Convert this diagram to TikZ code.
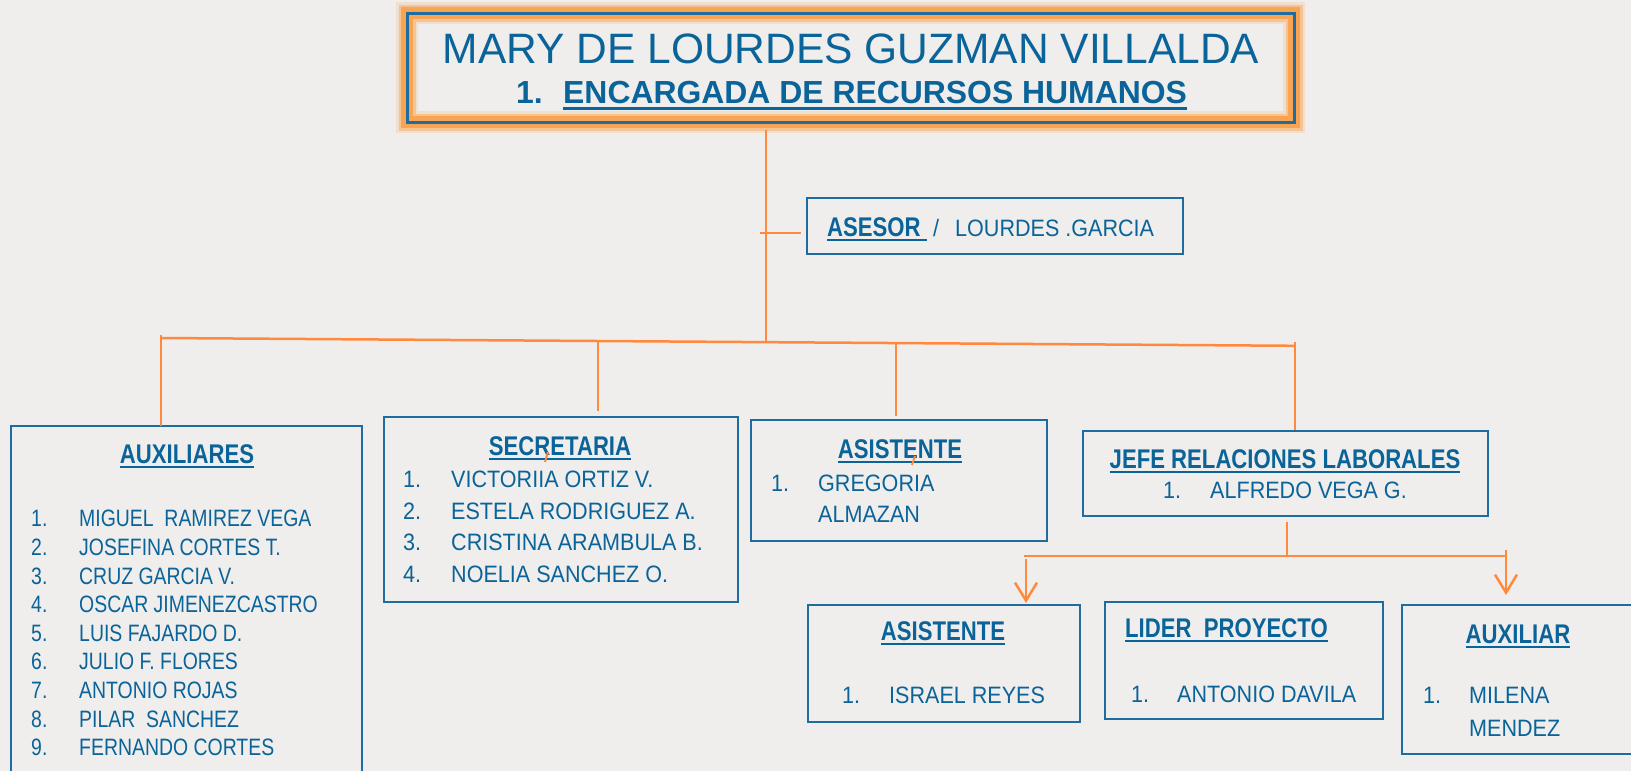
\documentclass[tikz,border=0pt]{standalone}
\usepackage{fontspec}
\setmainfont{Liberation Sans}
\newfontfamily\fbody{Liberation Sans}[FakeStretch=0.91]
\newfontfamily\fnar{Liberation Sans}[FakeStretch=0.82]
\newfontfamily\fhd{Liberation Sans}[FakeStretch=0.82]
\usetikzlibrary{arrows.meta}
\definecolor{bg}{HTML}{EFEEEC}
\definecolor{tblue}{HTML}{0A6399}
\definecolor{bblue}{HTML}{1F6CA0}
\definecolor{org}{HTML}{FF8A3D}
\definecolor{glow}{HTML}{F9A452}
\newcommand\myul[3]{\setbox0\hbox{#3}\rlap{\rule[-#1]{\wd0}{#2}}\box0}
\tikzset{
  bx/.style={draw=bblue, line width=2.7pt, inner sep=0pt, outer sep=0pt, anchor=north west},
  hd/.style={text=tblue, font=\fhd\bfseries\fontsize{27}{32}\selectfont, inner sep=0pt, anchor=base},
  tx/.style={text=tblue, font=\fbody\fontsize{23.7}{28}\selectfont, inner sep=0pt, anchor=base west},
  tn/.style={text=tblue, font=\fnar\fontsize{23.7}{28}\selectfont, inner sep=0pt, anchor=base west},
  conn/.style={draw=org, line width=2.5pt},
  arr/.style={conn, -{Straight Barb[length=18pt,width=22pt]}},
}
\begin{document}
\begin{tikzpicture}[x=1pt,y=-1pt]
\useasboundingbox (0,0) rectangle (1631,771);
\fill[bg] (0,0) rectangle (1631,771);
\clip (0,0) rectangle (1631,771);

% title box
\node[inner sep=0pt, outer sep=0pt, anchor=north west, minimum width=887pt, minimum height=109pt] (title) at (407,13) {};
\draw[glow, line width=22pt, opacity=.2] (title.north west) rectangle (title.south east);
\draw[glow, line width=17pt, opacity=.45] (title.north west) rectangle (title.south east);
\draw[glow, line width=12pt] (title.north west) rectangle (title.south east);
\draw[bblue, line width=3pt] (title.north west) rectangle (title.south east);
\node[text=tblue, font=\fontsize{42.5}{50}\selectfont, inner sep=0pt, anchor=base] (t1) at (851,63) {MARY DE LOURDES GUZMAN VILLALDA};
\node[text=tblue, font=\bfseries\fontsize{31.9}{36}\selectfont, inner sep=0pt, anchor=base west] (t2n) at (516,103) {1.};
\node[text=tblue, font=\bfseries\fontsize{31.9}{36}\selectfont, inner sep=0pt, anchor=base west] (t2) at (563,103) {\myul{6.5pt}{3pt}{ENCARGADA DE RECURSOS HUMANOS}};

% asesor
\node[bx, minimum width=376pt, minimum height=56pt] (asesor) at (807,198) {};
\node[hd, anchor=base west] (ase1) at (827,236) {\myul{5pt}{2pt}{ASESOR\ }};
\node[tx] (ase2) at (933,236) {/};
\node[tx] (ase3) at (955,236) {LOURDES .GARCIA};

% level boxes
\node[bx, minimum width=351pt, minimum height=380pt] (aux) at (11,426) {};
\node[bx, minimum width=354pt, minimum height=185pt] (sec) at (384,417) {};
\node[bx, minimum width=296pt, minimum height=121pt] (asis) at (751,420) {};
\node[bx, minimum width=405pt, minimum height=85pt] (jefe) at (1083,431) {};
\node[bx, minimum width=272pt, minimum height=117pt] (asis2) at (808,605) {};
\node[bx, minimum width=278pt, minimum height=117pt] (lider) at (1105,602) {};
\node[bx, minimum width=258pt, minimum height=149pt] (auxl) at (1402,605) {};

% auxiliares
\node[hd] (auxh) at (187,463) {\myul{5pt}{2pt}{AUXILIARES}};
\node[tn] (an1) at (31,526) {1.}; \node[tn] (a1) at (79,526) {MIGUEL\ \ RAMIREZ VEGA};
\node[tn] (an2) at (31,555) {2.}; \node[tn] (a2) at (79,555) {JOSEFINA CORTES T.};
\node[tn] (an3) at (31,584) {3.}; \node[tn] (a3) at (79,584) {CRUZ GARCIA V.};
\node[tn] (an4) at (31,612) {4.}; \node[tn] (a4) at (79,612) {OSCAR JIMENEZCASTRO};
\node[tn] (an5) at (31,641) {5.}; \node[tn] (a5) at (79,641) {LUIS FAJARDO D.};
\node[tn] (an6) at (31,669) {6.}; \node[tn] (a6) at (79,669) {JULIO F. FLORES};
\node[tn] (an7) at (31,698) {7.}; \node[tn] (a7) at (79,698) {ANTONIO ROJAS};
\node[tn] (an8) at (31,727) {8.}; \node[tn] (a8) at (79,727) {PILAR\ \ SANCHEZ};
\node[tn] (an9) at (31,755) {9.}; \node[tn] (a9) at (79,755) {FERNANDO CORTES};

% secretaria
\node[hd] (sech) at (560,455) {\myul{5pt}{2pt}{SECRETARIA}};
\node[tx] (sn1) at (403,487) {1.}; \node[tx] (s1) at (451,487) {VICTORIIA ORTIZ V.};
\node[tx] (sn2) at (403,519) {2.}; \node[tx] (s2) at (451,519) {ESTELA RODRIGUEZ A.};
\node[tx] (sn3) at (403,550) {3.}; \node[tx] (s3) at (451,550) {CRISTINA ARAMBULA B.};
\node[tx] (sn4) at (403,582) {4.}; \node[tx] (s4) at (451,582) {NOELIA SANCHEZ O.};

% asistente
\node[hd] (asih) at (900,458) {\myul{5pt}{2pt}{ASISTENTE}};
\node[tx] (gn1) at (771,491) {1.}; \node[tx] (g1) at (818,491) {GREGORIA};
\node[tx] (g2) at (818,522) {ALMAZAN};

% jefe
\node[hd] (jefh) at (1285,468) {\myul{5pt}{2pt}{JEFE RELACIONES LABORALES}};
\node[tx] (jn1) at (1163,498) {1.}; \node[tx] (j1) at (1210,498) {ALFREDO VEGA G.};

% asistente 2
\node[hd] (as2h) at (943,640) {\myul{5pt}{2pt}{ASISTENTE}};
\node[tx] (in1) at (842,703) {1.}; \node[tx] (i1) at (889,703) {ISRAEL REYES};

% lider
\node[hd, anchor=base west] (lidh) at (1125,637) {\myul{5pt}{2pt}{LIDER\ \ PROYECTO}};
\node[tx] (ln1) at (1131,702) {1.}; \node[tx] (l1) at (1177,702) {ANTONIO DAVILA};

% auxiliar
\node[hd] (axh) at (1518,643) {\myul{5pt}{2pt}{AUXILIAR}};
\node[tx] (mn1) at (1423,703) {1.}; \node[tx] (m1) at (1469,703) {MILENA};
\node[tx] (m2) at (1469,736) {MENDEZ};

% connectors
\coordinate (bL) at (161,338);
\coordinate (bR) at (1295,345.8);
\coordinate (bS) at (598,341);
\coordinate (bA) at (896,343.2);
\coordinate (bT) at (766,342.3);
\coordinate (st) at (760,233);
\draw[conn, shorten <=8pt] (title.south -| bT) -- (bT);
\draw[conn, shorten >=6pt] (st) -- (st -| asesor.west);
\draw[conn] (bL) -- (bR);
\draw[conn] ([yshift=3pt]bL) -- (aux.north -| bL);
\draw[conn, shorten >=6pt] (bS) -- (sec.north -| bS);
\draw[conn, shorten >=4pt] (bA) -- (asis.north -| bA);
\draw[conn, shorten >=1pt] ([yshift=4pt]bR) -- (jefe.north -| bR);

\coordinate (sL) at (1024,556);
\coordinate (sR) at (1506,556);
\coordinate (sM) at (1287,556);
\coordinate (sA) at (1026,559);
\draw[conn, shorten <=6pt] (jefe.south -| sM) -- (sM);
\draw[conn] (sL) -- (sR);
\draw[conn] ([yshift=6pt]sR) -- (sR);
\draw[arr, shorten >=2pt] (sA) -- (sA |- asis2.north);
\draw[arr, shorten >=10pt] (sR) -- (sR |- auxl.north);

% small stray marks
\coordinate (k1) at (548,452); \coordinate (k2) at (545,462);
\draw[conn, line width=2pt] (k1) -- (k2);
\coordinate (k3) at (915,456); \coordinate (k4) at (912,465);
\draw[conn, line width=2pt] (k3) -- (k4);
\end{tikzpicture}
\end{document}
